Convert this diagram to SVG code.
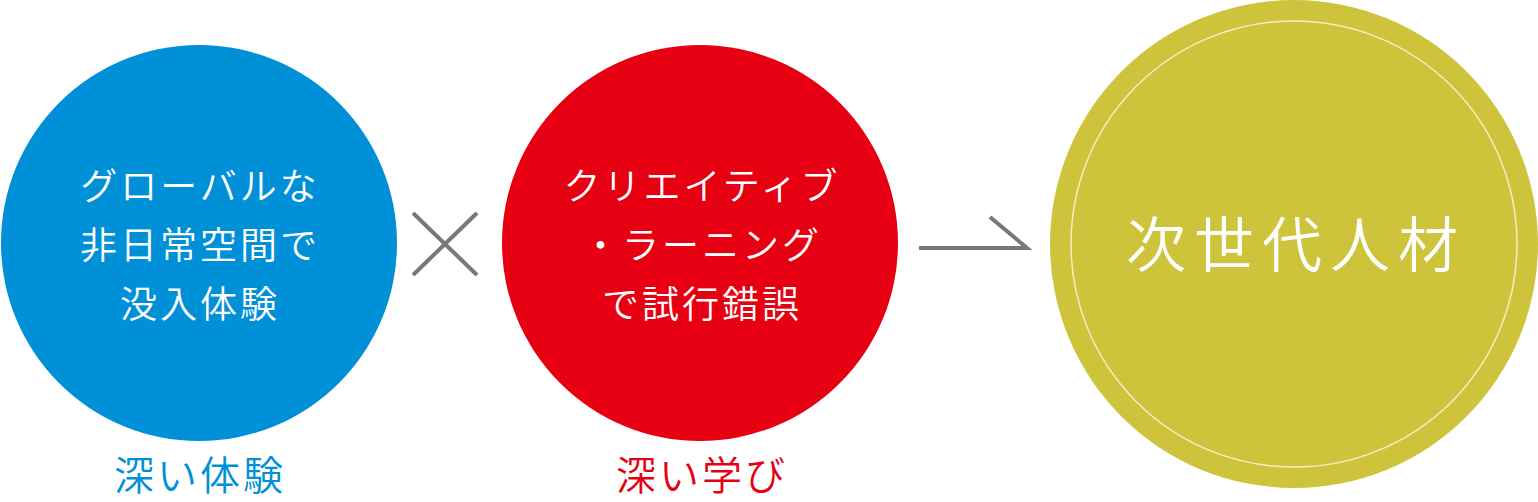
<svg xmlns="http://www.w3.org/2000/svg" width="1538" height="502" viewBox="0 0 1538 502">
<style>
.t{font-family:"Noto Sans CJK JP","Noto Sans CJK SC",sans-serif;font-weight:350;text-anchor:middle}
.w{fill:#ffffff;font-size:37px;letter-spacing:3px}
.lbl{font-size:40px;letter-spacing:3px}
.ln{stroke:#787878;stroke-width:4;fill:none}
</style>
<rect width="1538" height="502" fill="#ffffff"/>
<g id="node-global">
<circle cx="199" cy="243" r="198" fill="#0090D8"/>
<text class="t w" x="200" y="200">グローバルな</text>
<text class="t w" x="200" y="259">非日常空間で</text>
<text class="t w" x="200" y="318">没入体験</text>
<text class="t lbl" x="200" y="490" fill="#0090D8">深い体験</text>
</g>
<g id="node-creative">
<circle cx="700" cy="243" r="198" fill="#E60012"/>
<text class="t w" x="702" y="200">クリエイティブ</text>
<text class="t w" x="702" y="259">・ラーニング</text>
<text class="t w" x="702" y="318">で試行錯誤</text>
<text class="t lbl" x="702" y="490" fill="#E60012">深い学び</text>
</g>
<g id="node-result">
<circle cx="1294" cy="244" r="244" fill="#CDC43B"/>
<circle cx="1294" cy="244" r="223" fill="none" stroke="#F2EDC8" stroke-width="1.5"/>
<text class="t" x="1296" y="267" fill="#ffffff" font-size="60" letter-spacing="8">次世代人材</text>
</g>
<g id="connectors">
<line class="ln" x1="413" y1="213" x2="477" y2="275"/>
<line class="ln" x1="477" y1="213" x2="413" y2="275"/>
<polyline class="ln" points="919,248 1027,248 990,217"/>
</g>
</svg>
